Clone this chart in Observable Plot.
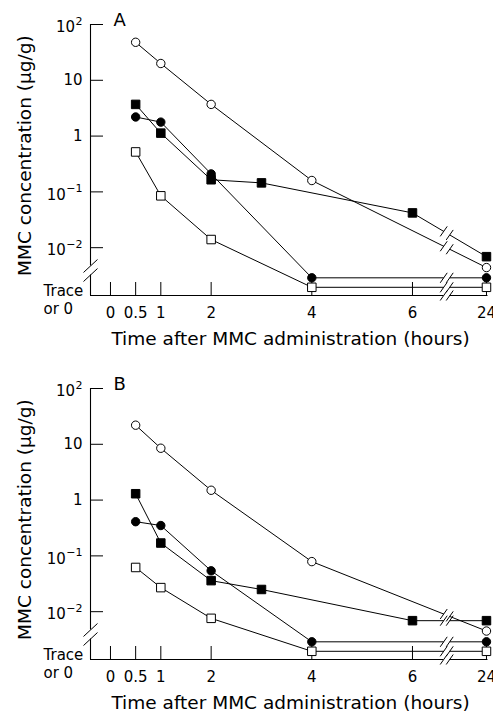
<!DOCTYPE html>
<html><head><meta charset="utf-8">
<script src="https://cdn.jsdelivr.net/npm/d3@7"></script>
<script src="https://cdn.jsdelivr.net/npm/@observablehq/plot@0.6"></script>
<style>
html,body{margin:0;padding:0;background:#fff;}
#chart svg{display:block;}
</style></head><body><div id="chart"></div>
<script>
// ---------- data ----------
const TR = "trace"; // plotted on the "Trace or 0" level
const timesMain = [0.5, 1, 2, 4, 24];
const timesFilledSquare = [0.5, 1, 2, 3, 6, 24];

// Panel A
const openCircleA   = [48, 20, 3.7, 0.16, 0.0044];
const filledSquareA = [3.7, 1.13, 0.165, 0.145, 0.042, 0.0069];
const filledCircleA = [2.2, 1.78, 0.21, TR, TR];
const openSquareA   = [0.52, 0.085, 0.014, TR, TR];
// Panel B
const openCircleB   = [22, 8.5, 1.5, 0.079, 0.0045];
const filledSquareB = [1.3, 0.17, 0.036, 0.025, 0.0069, 0.0069];
const filledCircleB = [0.41, 0.35, 0.054, TR, TR];
const openSquareB   = [0.062, 0.027, 0.0076, TR, TR];

const xTickValues = [0, 0.5, 1, 2, 4, 6, 24];
const xTickLabels = ["0", "0.5", "1", "2", "4", "6", "24"];
const yTickValues = [0.01, 0.1, 1, 10, 100];
const yTickBase = ["10", "10", "1", "10", "10"];
const yTickExp  = ["−2", "−1", "", "", "2"];
const yAxisTitle = "MMC concentration (µg/g)";
const xAxisTitle = "Time after MMC administration (hours)";
const traceLabel = "Trace\nor 0";
const panelLabels = ["A", "B"];

// ---------- layout ----------
const W = 493, ML = 90, MR = 3, MT = 24, IH = 271;
const X_DOMAIN = [-0.397, 7.55];
const Y_DOMAIN = [-2.857, 2];
const POS24 = 7.47;      // broken axis: 24 h drawn here
const XBREAK = 6.68;
const TRACE_Y = {filledCircle: -2.54, openSquare: -2.71};
const kx = (X_DOMAIN[1] - X_DOMAIN[0]) / (W - ML - MR);
const ky = (Y_DOMAIN[1] - Y_DOMAIN[0]) / IH;
const FONT = "DejaVu Sans";
const EXP_SIZE = 11;

const ctx = document.createElement("canvas").getContext("2d");
ctx.font = `${EXP_SIZE}px "${FONT}"`;
const expWidth = s => s ? ctx.measureText(s).width + 0.5 : 0;

const xp = t => t === 24 ? POS24 : t;
const yp = (v, key) => v === TR ? TRACE_Y[key] : Math.log10(v);

function buildRows(oc, fs, fc, os) {
  const defs = [
    {key: "openCircle", times: timesMain, vals: oc},
    {key: "filledSquare", times: timesFilledSquare, vals: fs},
    {key: "filledCircle", times: timesMain, vals: fc},
    {key: "openSquare", times: timesMain, vals: os}
  ];
  const rows = [];
  for (const d of defs) d.times.forEach((t, i) => rows.push({series: d.key, time: t, value: d.vals[i], x: xp(t), y: yp(d.vals[i], d.key)}));
  return rows;
}

function breakMarks(rows) {
  const gaps = [], slashes = [];
  const keys = [...new Set(rows.map(r => r.series))];
  for (const k of keys) {
    const s = rows.filter(r => r.series === k);
    for (let i = 0; i < s.length - 1; i++) {
      const a = s[i], b = s[i + 1];
      if (a.x < XBREAK && b.x > XBREAK) {
        const yAt = x => a.y + (b.y - a.y) * (x - a.x) / (b.x - a.x);
        const c1 = XBREAK - 3 * kx, c2 = XBREAK + 3 * kx;
        gaps.push({x1: c1, y1: yAt(c1), x2: c2, y2: yAt(c2)});
        for (const c of [c1, c2]) slashes.push({x1: c - 3.5 * kx, y1: yAt(c) - 5 * ky, x2: c + 3.5 * kx, y2: yAt(c) + 5 * ky});
      }
    }
  }
  // x-axis break
  for (const c of [XBREAK - 3 * kx, XBREAK + 3 * kx]) slashes.push({x1: c - 3.5 * kx, y1: Y_DOMAIN[0] - 5 * ky, x2: c + 3.5 * kx, y2: Y_DOMAIN[0] + 5 * ky});
  // y-axis break
  for (const c of [-2.328, -2.49]) slashes.push({x1: X_DOMAIN[0] - 7 * kx, y1: c - 6.5 * ky, x2: X_DOMAIN[0] + 7 * kx, y2: c + 6.5 * ky});
  return {gaps, slashes};
}

const styles = {
  openCircle: {symbol: "circle", fill: "white", r: 4.2},
  filledSquare: {symbol: "square", fill: "black", r: 4.8},
  filledCircle: {symbol: "circle", fill: "black", r: 4.2},
  openSquare: {symbol: "square", fill: "white", r: 4.8}
};

function panel(label, rows, height) {
  const {gaps, slashes} = breakMarks(rows);
  const yt = yTickValues.map((v, i) => ({v, base: yTickBase[i], exp: yTickExp[i]}));
  const dots = Object.entries(styles).map(([k, st]) =>
    Plot.dot(rows.filter(r => r.series === k), {x: "x", y: "y", symbol: st.symbol, r: st.r, fill: st.fill, stroke: "black", strokeWidth: 1}));
  return Plot.plot({
    width: W, height,
    marginLeft: ML, marginRight: MR, marginTop: MT, marginBottom: height - MT - IH,
    x: {domain: X_DOMAIN, axis: null},
    y: {domain: Y_DOMAIN, axis: null},
    style: {fontFamily: FONT, fontSize: "15px", background: "white", color: "black"},
    marks: [
      // axes
      Plot.ruleX([X_DOMAIN[0]], {y1: 2, y2: -2.328, stroke: "black", strokeWidth: 1.1}),
      Plot.ruleX([X_DOMAIN[0]], {y1: -2.49, y2: Y_DOMAIN[0], stroke: "black", strokeWidth: 1.1}),
      Plot.ruleY([Y_DOMAIN[0]], {x1: X_DOMAIN[0], x2: XBREAK - 3 * kx, stroke: "black", strokeWidth: 1.1}),
      Plot.ruleY([Y_DOMAIN[0]], {x1: XBREAK + 3 * kx, x2: 7.5, stroke: "black", strokeWidth: 1.1}),
      Plot.tickY(yTickValues, {y: d => Math.log10(d), insetRight: (W - ML - MR) - 13, stroke: "black"}),
      Plot.tickX(xTickValues, {x: xp, insetTop: IH - 13, stroke: "black"}),
      // y tick labels: base + superscript exponent
      Plot.text(yt.filter(d => !d.exp), {x: X_DOMAIN[0], y: d => Math.log10(d.v), text: "base", dx: -8, textAnchor: "end", fontSize: 15}),
      Plot.text(yt.filter(d => d.exp), {x: d => X_DOMAIN[0] - expWidth(d.exp) * kx, y: d => Math.log10(d.v), text: "base", dx: -8, dy: 3, textAnchor: "end", fontSize: 15}),
      Plot.text(yt.filter(d => d.exp), {x: X_DOMAIN[0], y: d => Math.log10(d.v), text: "exp", dx: -8, dy: -3, textAnchor: "end", fontSize: EXP_SIZE}),
      Plot.text(xTickValues, {x: xp, y: Y_DOMAIN[0], text: (d, i) => xTickLabels[i], dy: 18, fontSize: 15}),
      Plot.text([traceLabel], {x: X_DOMAIN[0], y: Y_DOMAIN[0], dx: -47, dy: 3.5, textAnchor: "start", lineAnchor: "middle", lineHeight: 1.2, fontSize: 15}),
      Plot.text([xAxisTitle], {frameAnchor: "bottom", dy: 43.5, textAnchor: "middle", lineAnchor: "middle", fontSize: 18.5}),
      Plot.text([yAxisTitle], {x: X_DOMAIN[0], y: -0.35, rotate: -90, dx: -65, textAnchor: "middle", lineAnchor: "middle", fontSize: 18.5}),
      Plot.text([label], {frameAnchor: "top-left", dx: 23, dy: -4.5, textAnchor: "start", lineAnchor: "middle", fontSize: 18}),
      // series
      Plot.line(rows, {x: "x", y: "y", z: "series", stroke: "black", strokeWidth: 1}),
      Plot.link(gaps, {x1: "x1", y1: "y1", x2: "x2", y2: "y2", stroke: "white", strokeWidth: 3}),
      Plot.link(slashes, {x1: "x1", y1: "y1", x2: "x2", y2: "y2", stroke: "black", strokeWidth: 1}),
      ...dots
    ]
  });
}

const el = document.getElementById("chart");
el.append(panel(panelLabels[0], buildRows(openCircleA, filledSquareA, filledCircleA, openSquareA), 364));
el.append(panel(panelLabels[1], buildRows(openCircleB, filledSquareB, filledCircleB, openSquareB), 349));
</script>
</body></html>
